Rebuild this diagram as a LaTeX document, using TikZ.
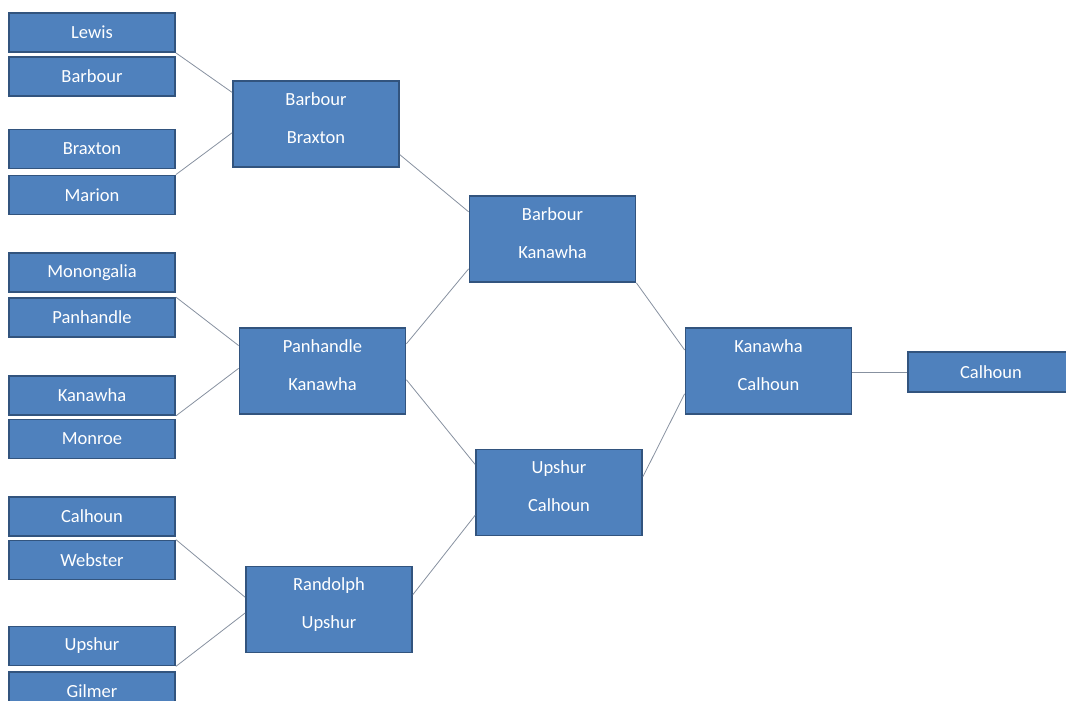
\documentclass[tikz,border=0pt]{standalone}
\usepackage{fontspec}
\setmainfont{Carlito}
\usetikzlibrary{calc}
\definecolor{boxfill}{RGB}{79,129,189}
\definecolor{boxdraw}{RGB}{50,84,126}
\definecolor{linkcol}{RGB}{135,145,160}
\tikzset{
  team/.style={draw=boxdraw, line width=1.8pt, fill=boxfill, text=white,
    minimum width=166pt, minimum height=39pt, inner sep=0pt,
    font=\fontsize{18.5}{38}\selectfont, align=center},
  pair/.style={team, minimum height=86pt},
  link/.style={draw=linkcol, line width=0.8pt}
}
\newcommand{\twoline}[2]{#1\\#2\\[-26pt]\mbox{}}
\begin{document}
\begin{tikzpicture}[x=1pt,y=-1pt]
\useasboundingbox (0,0) rectangle (1066,701);
\clip (0,0) rectangle (1066,701);
% first column
\node[team] (lewis) at (92,32.5) {Lewis};
\node[team] (barbour) at (92,76.5) {Barbour};
\node[team] (braxton) at (92,149) {Braxton};
\node[team] (marion) at (92,195) {Marion};
\node[team] (monongalia) at (92,272.5) {Monongalia};
\node[team] (panhandle) at (92,317.5) {Panhandle};
\node[team] (kanawha) at (92,395.5) {Kanawha};
\node[team] (monroe) at (92,439) {Monroe};
\node[team] (calhoun) at (92,516.5) {Calhoun};
\node[team] (webster) at (92,560) {Webster};
\node[team] (upshur) at (92,646) {Upshur};
\node[team] (gilmer) at (92,691.5) {Gilmer};
% second column
\node[pair] (bb) at (316,124) {\twoline{Barbour}{Braxton}};
\node[pair] (pk) at (322.5,371) {\twoline{Panhandle}{Kanawha}};
\node[pair] (ru) at (329,609.5) {\twoline{Randolph}{Upshur}};
% third column
\node[pair] (bk) at (552.5,239) {\twoline{Barbour}{Kanawha}};
\node[pair] (uc) at (559,492.5) {\twoline{Upshur}{Calhoun}};
% fourth column
\node[pair] (kc) at (768.5,371) {\twoline{Kanawha}{Calhoun}};
% winner
\node[team, minimum height=40pt] (fin) at (991,372) {Calhoun};
% connectors
\draw[link] (lewis.south east) -- ($(bb.north west)!0.14!(bb.south west)$);
\draw[link] (marion.north east) -- ($(bb.north west)!0.60!(bb.south west)$);
\draw[link] ($(bb.north east)!0.85!(bb.south east)$) -- ($(bk.north west)!0.19!(bk.south west)$);
\draw[link] (panhandle.north east) -- ($(pk.north west)!0.21!(pk.south west)$);
\draw[link] (kanawha.south east) -- ($(pk.north west)!0.47!(pk.south west)$);
\draw[link] ($(pk.north east)!0.19!(pk.south east)$) -- ($(bk.north west)!0.84!(bk.south west)$);
\draw[link] ($(pk.north east)!0.60!(pk.south east)$) -- ($(uc.north west)!0.18!(uc.south west)$);
\draw[link] (webster.north east) -- ($(ru.north west)!0.36!(ru.south west)$);
\draw[link] (upshur.south east) -- ($(ru.north west)!0.54!(ru.south west)$);
\draw[link] ($(ru.north east)!0.33!(ru.south east)$) -- ($(uc.north west)!0.76!(uc.south west)$);
\draw[link] (bk.south east) -- ($(kc.north west)!0.26!(kc.south west)$);
\draw[link] ($(uc.north east)!0.32!(uc.south east)$) -- ($(kc.north west)!0.76!(kc.south west)$);
\draw[link] (kc.east |- fin.west) -- (fin.west);
\end{tikzpicture}
\end{document}
